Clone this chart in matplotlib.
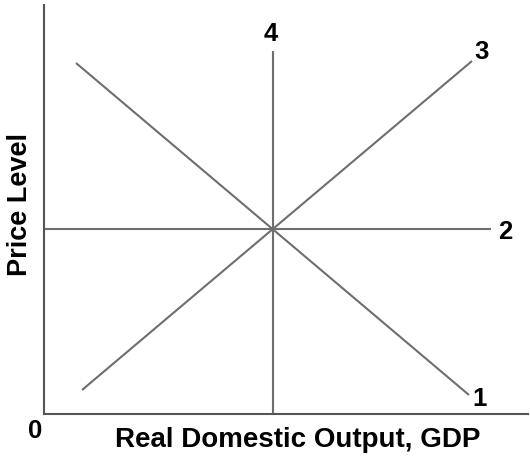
import matplotlib
matplotlib.use("Agg")
import matplotlib.pyplot as plt

# curve endpoints (x, y) in output / price-level units
curve_names = ["1", "2", "3", "4"]
curve_x = [[32, 425], [0, 447], [38, 428], [229, 229]]
curve_y = [[351, 19], [185, 185], [24, 353], [0, 363]]
label_xy = [(436, 16), (461, 183), (438, 363), (227, 381)]

plt.rcParams['font.family'] = ['Liberation Sans', 'DejaVu Sans']

fig = plt.figure(figsize=(5.3, 4.6), dpi=100)
ax = fig.add_axes([44 / 530, 45 / 460, 484 / 530, 409 / 460])
ax.set_xlim(0, 484)
ax.set_ylim(0, 409)

for name, xs, ys, (lx, ly) in zip(curve_names, curve_x, curve_y, label_xy):
    ax.plot(xs, ys, color='#6e6e6e', linewidth=1.5, solid_capstyle='butt')
    ax.text(lx, ly, name, fontsize=18.5, fontweight='bold', ha='center', va='center')

for side in ['top', 'right']:
    ax.spines[side].set_visible(False)
for side in ['left', 'bottom']:
    ax.spines[side].set_color('#555555')
    ax.spines[side].set_linewidth(1.5)
ax.set_xticks([])
ax.set_yticks([])

ax.text(-9, -16, "0", fontsize=18.5, fontweight='bold', ha='center', va='center', clip_on=False)
fig.text(298 / 530, 1 - 440 / 460, "Real Domestic Output, GDP", fontsize=20,
         fontweight='bold', ha='center', va='center')
fig.text(20 / 530, 1 - 205 / 460, "Price Level", fontsize=19.5, fontweight='bold',
         ha='center', va='center', rotation=90)

fig.savefig("out.png", dpi=100, facecolor='white')
